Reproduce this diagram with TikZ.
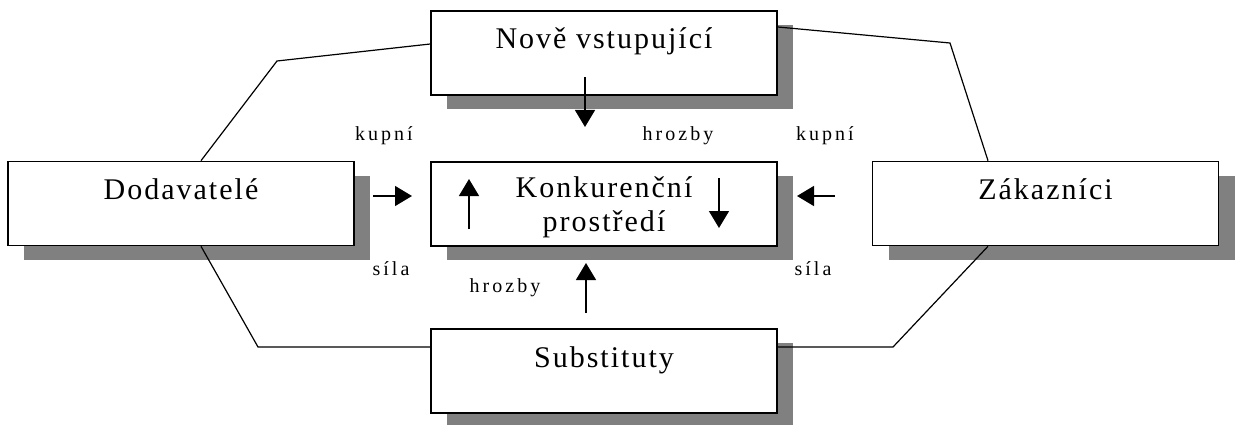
\documentclass[tikz,border=0pt]{standalone}
\usepackage{fontspec}
\setmainfont{Liberation Serif}
\newfontfamily\bigf[LetterSpace=6.7]{Liberation Serif}
\newfontfamily\smallf[LetterSpace=15]{Liberation Serif}
\usetikzlibrary{shadows,arrows.meta}
\definecolor{shd}{gray}{0.5}
\tikzset{
  box/.style={draw=black, line width=1.6pt, fill=white, minimum width=346pt, minimum height=84pt, inner sep=0pt,
    drop shadow={shadow xshift=16pt, shadow yshift=-14pt, fill=shd, opacity=1}},
  bigtxt/.style={font=\bigf\fontsize{30}{36}\selectfont, anchor=base, inner sep=0pt},
  smalltxt/.style={font=\smallf\fontsize{20}{24}\selectfont, anchor=base, inner sep=0pt},
  conn/.style={draw=black, line width=1.2pt, line join=miter},
  arr/.style={draw=black, line width=1.3pt, -{Triangle[length=17pt,width=20pt]}}
}
\begin{document}
\begin{tikzpicture}[x=1pt,y=-1pt]
\useasboundingbox (0,0) rectangle (1239,425);
% boxes
\node[box] (nove) at (604,53) {};
\node[box] (dod) at (181,203.5) {};
\node[box] (konk) at (604,204) {};
\node[box] (zak) at (1045.5,203.5) {};
\node[box] (sub) at (604,371) {};
% box texts
\node[bigtxt] (tnove) at (604,49) {Nově vstupující};
\node[bigtxt] (tdod) at (181,199) {Dodavatelé};
\node[bigtxt] (tkonk1) at (604,197) {Konkurenční};
\node[bigtxt] (tkonk2) at (604,231) {prostředí};
\node[bigtxt] (tzak) at (1045.5,199) {Zákazníci};
\node[bigtxt] (tsub) at (604,367) {Substituty};
% corner coordinates
\coordinate (c1) at (277,61);
\coordinate (c2) at (950,43);
\coordinate (c3) at (258,347);
\coordinate (c4) at (893,347);
% connectors
\draw[conn] ([xshift=20pt]dod.north) -- (c1) -- ([yshift=9pt]nove.west);
\draw[conn] ([yshift=26pt]nove.east) -- (c2) -- ([xshift=-57.5pt]zak.north);
\draw[conn] ([xshift=20pt]dod.south) -- (c3) -- ([yshift=24pt]sub.west);
\draw[conn] ([yshift=24pt]sub.east) -- (c4) -- ([xshift=-57.5pt]zak.south);
% arrows
\coordinate (a1s) at (585,77); \coordinate (a1e) at (585,127);
\coordinate (a2s) at (586,313); \coordinate (a2e) at (586,263);
\coordinate (a3s) at (373,196); \coordinate (a3e) at (412,196);
\coordinate (a4s) at (835,196); \coordinate (a4e) at (797,196);
\coordinate (a5s) at (469,229); \coordinate (a5e) at (469,179);
\coordinate (a6s) at (719,178); \coordinate (a6e) at (719,228);
\draw[arr] (a1s) -- (a1e);
\draw[arr] (a2s) -- (a2e);
\draw[arr] (a3s) -- (a3e);
\draw[arr] (a4s) -- (a4e);
\draw[arr] (a5s) -- (a5e);
\draw[arr] (a6s) -- (a6e);
% labels
\node[smalltxt] (l1) at (384,141) {kupní};
\node[smalltxt] (l2) at (678,141) {hrozby};
\node[smalltxt] (l3) at (825,141) {kupní};
\node[smalltxt] (l4) at (391,275) {síla};
\node[smalltxt] (l5) at (813,275) {síla};
\node[smalltxt] (l6) at (505,292) {hrozby};
\end{tikzpicture}
\end{document}
